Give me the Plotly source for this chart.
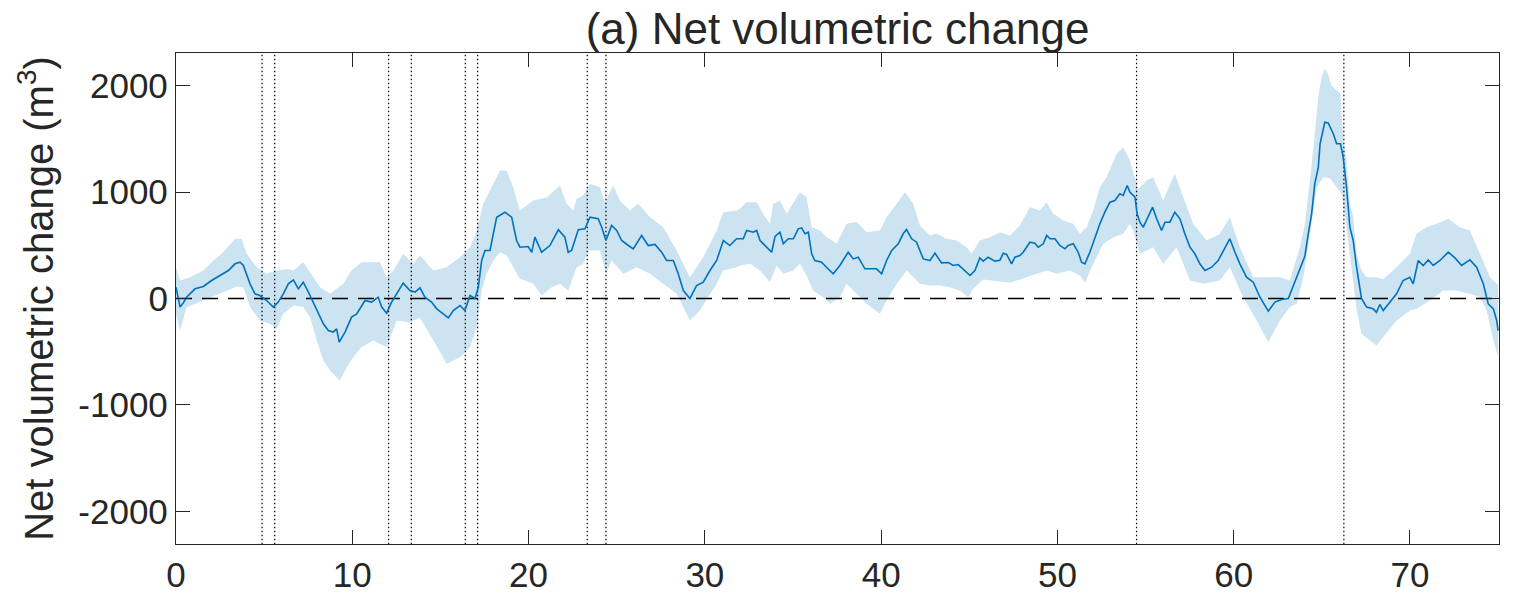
import plotly.graph_objects as go

# ---- data ----
line_x = [0.00, 0.23, 0.42, 0.60, 1.08, 1.55, 2.02, 2.50, 2.97, 3.35, 3.63, 3.82, 4.20, 4.48, 4.76, 5.14, 5.52, 5.80,
          6.09, 6.37, 6.66, 6.94, 7.22, 7.51, 7.79, 8.07, 8.36, 8.64, 8.92, 9.11, 9.26, 9.59, 9.96, 10.25, 10.50,
          10.72, 11.10, 11.47, 11.67, 11.95, 12.23, 12.52, 12.89, 13.27, 13.56, 13.84, 14.12, 14.50, 14.79, 15.16,
          15.45, 15.73, 16.11, 16.39, 16.68, 16.96, 17.15, 17.34, 17.53, 17.81, 18.00, 18.19, 18.66, 19.04, 19.32,
          19.51, 19.98, 20.18, 20.36, 20.74, 21.21, 21.69, 22.06, 22.25, 22.44, 22.82, 23.20, 23.48, 23.95, 24.15,
          24.39, 24.71, 25.00, 25.28, 25.66, 25.94, 26.41, 26.79, 27.17, 27.55, 27.83, 28.21, 28.49, 28.78, 29.15,
          29.53, 29.91, 30.29, 30.67, 31.05, 31.42, 31.80, 32.18, 32.37, 32.75, 32.94, 33.13, 33.50, 33.79, 33.98,
          34.26, 34.45, 34.73, 35.02, 35.30, 35.49, 35.68, 35.87, 36.06, 36.24, 36.62, 36.90, 37.28, 37.66, 38.13,
          38.42, 38.70, 39.08, 39.46, 39.74, 40.03, 40.31, 40.60, 40.97, 41.25, 41.44, 41.73, 42.01, 42.39, 42.77,
          43.05, 43.43, 43.81, 44.09, 44.37, 44.75, 45.04, 45.32, 45.60, 45.79, 46.07, 46.45, 46.74, 46.93, 47.12,
          47.40, 47.59, 47.87, 48.06, 48.44, 48.72, 48.91, 49.20, 49.39, 49.58, 49.86, 50.14, 50.43, 50.61, 50.90,
          51.18, 51.37, 51.56, 51.84, 52.13, 52.41, 52.69, 52.98, 53.26, 53.54, 53.73, 53.96, 54.11, 54.40, 54.52,
          54.68, 54.87, 55.15, 55.40, 55.63, 55.91, 56.10, 56.38, 56.66, 56.95, 57.23, 57.52, 57.80, 58.08, 58.37,
          58.75, 59.12, 59.50, 59.78, 60.07, 60.35, 60.73, 61.11, 61.49, 61.96, 62.34, 62.72, 63.10, 63.47, 63.80,
          64.04, 64.23, 64.42, 64.60, 64.80, 64.90, 65.17, 65.36, 65.65, 65.84, 66.06, 66.21, 66.40, 66.59, 66.78,
          66.97, 67.25, 67.54, 67.91, 68.10, 68.29, 68.48, 68.86, 69.24, 69.61, 69.99, 70.18, 70.47, 70.75, 71.04,
          71.32, 71.70, 72.17, 72.55, 72.93, 73.40, 73.78, 74.16, 74.44, 74.73, 74.92, 75.00]
line_y = [106, -81, -40, 12, 91, 113, 169, 216, 263, 326, 341, 310, 138, 44, 28, -19, -81, -34,
          44, 138, 175, 91, 153, 60, -34, -144, -238, -301, -316, -285, -410, -316, -175, -144, -80,
          -19, -34, 12, -81, -138, -34, 44, 144, 75, 60, 100, 12, -34, -97, -144,
          -182, -113, -66, -113, 28, 0, 106, 357, 451, 451, 608, 764, 811, 764, 545,
          482, 488, 435, 576, 435, 498, 646, 576, 435, 451, 646, 655, 764, 749, 670,
          545, 686, 639, 545, 498, 467, 592, 498, 508, 435, 357, 357, 232, 75, 0,
          122, 153, 263, 357, 545, 498, 561, 561, 639, 623, 639, 545, 482, 435, 583,
          623, 514, 561, 561, 655, 664, 608, 623, 420, 357, 341, 294, 232, 310, 435,
          372, 388, 279, 279, 279, 232, 357, 451, 514, 608, 648, 561, 529, 372, 357,
          426, 335, 338, 310, 319, 263, 216, 263, 382, 351, 388, 351, 360, 426, 414,
          326, 388, 404, 435, 529, 520, 482, 514, 592, 561, 561, 498, 467, 498, 514,
          435, 341, 326, 435, 576, 702, 811, 905, 921, 984, 968, 1062, 1000, 952, 796,
          717, 670, 764, 858, 749, 639, 717, 717, 811, 749, 608, 482, 420, 326, 263,
          294, 357, 482, 561, 435, 326, 200, 153, 12, -119, -34, -9, 0, 160, 300,
          400, 608, 796, 1078, 1234, 1454, 1657, 1650, 1548, 1454, 1454, 1328, 1046, 670, 545,
          294, 0, -81, -97, -129, -56, -113, -34, 44, 169, 200, 138, 357, 310, 363,
          310, 357, 435, 382, 310, 363, 294, 138, -50, -97, -207, -301]

upper_x = [0.00, 0.23, 0.79, 1.55, 2.12, 2.68, 3.35, 3.72, 4.01, 4.58, 5.14, 5.71, 6.28, 6.66, 7.22, 7.60, 8.17,
           8.74, 9.49, 9.96, 10.53, 11.57, 11.95, 12.33, 12.89, 13.46, 13.84, 14.60, 15.35, 16.11, 16.68, 17.06,
           17.43, 18.00, 18.38, 18.76, 19.13, 19.51, 20.27, 21.03, 21.78, 22.16, 22.54, 22.73, 23.10, 23.48, 24.05,
           24.33, 24.80, 25.18, 25.75, 26.22, 26.89, 27.64, 28.40, 29.15, 29.91, 30.67, 31.04, 31.80, 31.99, 32.37,
           32.94, 33.31, 33.69, 33.88, 34.26, 34.64, 35.01, 35.39, 35.77, 36.06, 36.53, 36.91, 37.48, 38.04, 38.61,
           39.18, 39.93, 40.31, 40.88, 41.35, 41.82, 42.20, 42.77, 43.15, 43.71, 44.28, 44.85, 45.13, 45.60, 46.17,
           46.74, 47.31, 47.87, 48.44, 49.01, 49.39, 49.76, 50.33, 50.90, 51.28, 51.66, 52.03, 52.41, 52.79, 53.36,
           53.73, 54.11, 54.58, 55.06, 55.43, 56.00, 56.66, 57.14, 57.70, 58.46, 59.22, 59.78, 60.35, 61.11, 61.87,
           62.62, 63.19, 63.76, 64.04, 64.23, 64.42, 64.60, 64.80, 64.95, 65.14, 65.33, 65.55, 65.84, 66.06, 66.21,
           66.40, 66.59, 66.78, 66.97, 67.25, 67.54, 68.10, 68.48, 69.24, 69.99, 70.37, 70.94, 71.50, 72.17, 72.83,
           73.40, 73.97, 74.54, 74.92, 75.00]
upper_y = [294, 169, 200, 263, 357, 435, 561, 561, 420, 294, 232, 263, 278, 263, 341, 247, 106,
           44, 138, 263, 341, 341, 200, 263, 420, 326, 404, 263, 294, 388, 482, 639,
           890, 1078, 1203, 1203, 1046, 827, 921, 950, 1062, 890, 827, 937, 968, 1078, 1046,
           905, 1062, 921, 827, 890, 764, 670, 451, 200, 388, 639, 811, 827, 843, 905,
           905, 796, 702, 890, 921, 796, 890, 999, 952, 670, 639, 576, 514, 702, 718,
           623, 639, 764, 890, 999, 890, 686, 592, 608, 561, 545, 482, 420, 545, 576,
           623, 592, 686, 858, 827, 905, 796, 733, 702, 608, 670, 827, 1046, 1140, 1359,
           1422, 1300, 1031, 1109, 1140, 921, 1172, 952, 702, 545, 608, 764, 482, 200, 200,
           200, 169, 482, 700, 950, 1250, 1550, 1900, 2050, 2159, 2120, 2000, 1955, 1924, 1500,
           1297, 900, 764, 420, 263, 200, 200, 180, 294, 420, 608, 670, 702, 749, 670,
           639, 420, 200, 138, 130]

lower_x = [0.00, 0.23, 0.60, 1.08, 1.55, 2.50, 3.44, 3.82, 4.20, 4.76, 5.33, 5.71, 6.09, 6.66, 7.22, 7.60, 7.98,
           8.36, 8.74, 9.30, 9.68, 10.06, 10.50, 11.19, 11.95, 12.52, 13.27, 13.84, 14.60, 15.35, 16.11, 16.68,
           17.06, 17.34, 17.62, 18.00, 18.38, 18.76, 19.13, 19.51, 20.27, 20.74, 21.31, 21.78, 22.25, 22.73, 23.10,
           23.39, 24.05, 24.39, 24.71, 25.37, 26.13, 26.89, 27.64, 28.40, 28.78, 29.15, 29.72, 30.10, 30.67, 31.04,
           31.80, 31.99, 32.56, 33.13, 33.69, 34.07, 34.45, 35.01, 35.39, 35.77, 36.15, 36.72, 37.10, 37.66, 38.04,
           38.61, 39.18, 39.93, 40.31, 40.88, 41.45, 42.20, 42.77, 43.34, 43.90, 44.47, 44.94, 45.22, 45.79, 46.55,
           47.31, 48.06, 48.82, 49.39, 49.95, 50.71, 51.28, 51.56, 52.03, 52.60, 53.17, 53.73, 54.11, 54.30, 54.68,
           55.43, 56.00, 56.76, 57.52, 58.27, 59.22, 59.78, 60.54, 61.30, 61.96, 62.62, 63.19, 63.57, 63.95, 64.33,
           64.71, 65.09, 65.46, 65.84, 66.12, 66.40, 66.68, 66.97, 67.25, 67.73, 68.10, 68.48, 69.24, 69.99, 70.37,
           71.13, 71.89, 72.64, 73.40, 73.97, 74.35, 74.73, 75.00]
lower_y = [-150, -301, -81, -50, -19, 44, 113, 106, -81, -207, -238, -285, -144, -66, -81, -175, -395,
           -583, -677, -771, -646, -552, -460, -395, -458, -207, -223, -182, -395, -614, -552, -458,
           -270, 75, 232, 357, 435, 404, 294, 185, 138, 28, 106, 138, 75, 294, 326,
           451, 451, 232, 357, 232, 294, 232, 138, 44, -81, -207, -113, -9, 138, 263,
           294, 310, 326, 263, 153, 310, 232, 263, 326, 216, 75, 12, -50, 12, 138,
           44, -50, -144, -19, 138, 263, 138, 122, 122, 106, 75, 12, 91, 179, 164,
           148, 185, 232, 263, 232, 263, 216, 148, 326, 514, 576, 608, 702, 639, 420,
           482, 326, 482, 169, 138, 169, 294, 12, -207, -410, -207, -81, -50, 200, 608,
           1046, 1140, 1130, 1046, 984, 670, 294, -100, -332, -395, -442, -364, -207, -113, -97,
           -19, 75, 75, 44, 12, -113, -395, -552]

event_x = [4.88, 5.60, 12.06, 13.35, 16.41, 17.11, 23.33, 24.39, 54.49, 66.25]

x_ticks = [0, 10, 20, 30, 40, 50, 60, 70]
y_ticks = [-2000, -1000, 0, 1000, 2000]
y_ticktext = ["-2000", "-1000", "0", "1000", "2000"]

TXT = "#262626"
FONT = "Liberation Sans, Arial, sans-serif"

fig = go.Figure()

# uncertainty band
fig.add_trace(go.Scatter(
    x=upper_x + lower_x[::-1], y=upper_y + lower_y[::-1],
    fill="toself", fillcolor="#cce3f1", line=dict(width=0), mode="lines",
    hoverinfo="skip", showlegend=False))

# zero reference line
fig.add_trace(go.Scatter(
    x=[0, 75.05], y=[0, 0], mode="lines",
    line=dict(color="#000000", width=1.5, dash="16px,10px"), showlegend=False))

# vertical dotted event lines
for ex in event_x:
    fig.add_trace(go.Scatter(
        x=[ex, ex], y=[-2310, 2310], mode="lines",
        line=dict(color="#000000", width=1.2, dash="1.5px,2.5px"), showlegend=False))

# main line
fig.add_trace(go.Scatter(
    x=line_x, y=line_y, mode="lines",
    line=dict(color="#0072BD", width=1.6), showlegend=False))

axis_common = dict(
    showline=True, linecolor=TXT, linewidth=1.3, mirror="allticks",
    ticks="inside", ticklen=14, tickwidth=1.3, tickcolor=TXT,
    showgrid=False, zeroline=False,
    tickfont=dict(family=FONT, size=35, color=TXT),
)

fig.update_layout(
    width=1514, height=605,
    margin=dict(l=176, r=15, t=53, b=61),
    paper_bgcolor="white", plot_bgcolor="white",
    title=dict(text="(a) Net volumetric change", x=0.5532, xanchor="center", y=0.953, yanchor="middle",
               font=dict(family=FONT, size=44, color=TXT)),
    xaxis=dict(range=[0, 75.05], tickvals=x_ticks, **axis_common),
    yaxis=dict(range=[-2307, 2307], tickvals=y_ticks, ticktext=y_ticktext,
               title=dict(text="Net volumetric change (m<sup>3</sup>)", standoff=12,
                          font=dict(family=FONT, size=40, color=TXT)),
               **axis_common),
)

fig.write_html("out.html")
